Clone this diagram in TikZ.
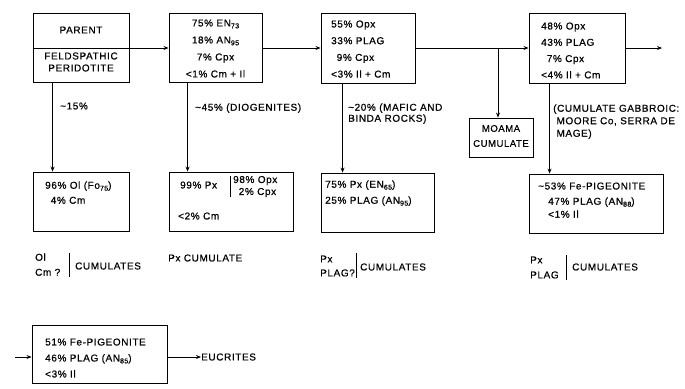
\documentclass[tikz,border=0pt]{standalone}
\usepackage{fontspec}
\setmainfont{Liberation Sans}[LetterSpace=6, FakeBold=0.6]
\usetikzlibrary{arrows.meta}

\tikzset{
  box/.style={draw, line width=0.9pt, inner sep=0pt},
  txt/.style={inner sep=0pt, anchor=north west, align=left, font=\fontsize{10}{16}\selectfont},
  flow/.style={line width=0.8pt, -{Stealth[length=5pt,width=4pt]}},
  bar/.style={line width=0.7pt}
}
\newcommand{\lowidx}[1]{\raisebox{-0.35ex}{\fontsize{7}{7}\selectfont #1}}

\begin{document}
\begin{tikzpicture}[x=1pt,y=-1pt]
\useasboundingbox (0,0) rectangle (685,388);

% top row: liquids
\node[box, minimum width=96pt, minimum height=69pt] (parent) at (81,48) {};
\node[box, minimum width=93pt, minimum height=69pt] (liq1) at (215.5,48) {};
\node[box, minimum width=94pt, minimum height=70pt] (liq2) at (368,48) {};
\node[box, minimum width=96pt, minimum height=70pt] (liq3) at (577,48) {};
\node[box, minimum width=64pt, minimum height=39pt] (moama) at (501,137.5) {};

\node[txt, anchor=center, align=center] (ptop) at (81,30) {PARENT};
\node[txt, anchor=center, align=center, font=\fontsize{10}{12}\selectfont] (pbot) at (81,62) {FELDSPATHIC\\PERIDOTITE};
\node[txt, anchor=north, align=center, font=\fontsize{10}{17}\selectfont] (liq1t) at (215.5,19.3)
  {75\% EN\lowidx{73}\\18\% AN\lowidx{95}\\7\% Cpx\\<1\% Cm + Il};
\node[txt, font=\fontsize{10}{16.7}\selectfont] (liq2t) at (331,20.3)
  {55\% Opx\\33\% PLAG\\\phantom{5}9\% Cpx\\<3\% Il + Cm};
\node[txt, font=\fontsize{10}{16.3}\selectfont] (liq3t) at (541,22.3)
  {48\% Opx\\43\% PLAG\\\phantom{4}7\% Cpx\\<4\% Il + Cm};
\node[txt, anchor=center, align=center, font=\fontsize{9.5}{15}\selectfont] (moamat) at (501,136) {MOAMA\\CUMULATE};

% middle row: cumulates
\node[box, minimum width=96pt, minimum height=59pt] (cum1) at (81,201.5) {};
\node[box, minimum width=124pt, minimum height=59pt] (cum2) at (231,201.5) {};
\node[box, minimum width=113pt, minimum height=59pt] (cum3) at (377.5,202.5) {};
\node[box, minimum width=134pt, minimum height=59pt] (cum4) at (596,203.5) {};

\node[txt, font=\fontsize{10}{15}\selectfont] (cum1t) at (45,181.3) {96\% Ol (Fo\lowidx{75})\\\phantom{9}4\% Cm};
\node[txt] (cum2l) at (180,181.3) {99\% Px};
\node[txt, font=\fontsize{10}{12}\selectfont] (cum2r) at (233,175.8) {98\% Opx\\\phantom{9}2\% Cpx};
\node[txt] (cum2b) at (178,212.3) {<2\% Cm};
\draw[bar] ([xshift=-3pt]cum2r.north west) -- ([xshift=-3pt]cum2r.south west);
\node[txt] (cum3t) at (325,180.3) {75\% Px (EN\lowidx{65})\\25\% PLAG (AN\lowidx{95})};
\node[txt] (cum4a) at (538,182.3) {\textasciitilde 53\% Fe-PIGEONITE};
\node[txt, font=\fontsize{10}{13}\selectfont] (cum4b) at (548,197.3) {47\% PLAG (AN\lowidx{88})\\<1\% Il};

% fractionation labels
\node[txt] (frac1) at (60,102.3) {\textasciitilde 15\%};
\node[txt] (frac2) at (195,103.3) {\textasciitilde 45\% (DIOGENITES)};
\node[txt, font=\fontsize{10}{11}\selectfont] (frac3) at (348,103.3) {\textasciitilde 20\% (MAFIC AND\\BINDA ROCKS)};
\node[txt, font=\fontsize{10}{12.5}\selectfont] (frac4) at (553,104.3)
  {(CUMULATE GABBROIC:\\\phantom{(}MOORE Co, SERRA DE\\\phantom{(}MAGE)};

% bottom labels
\node[txt, font=\fontsize{10}{15}\selectfont] (ol) at (35,253.3) {Ol\\Cm ?};
\node[txt, anchor=west] (cu1) at (75,266) {CUMULATES};
\draw[bar] ([xshift=-6pt,yshift=13pt]cu1.west) -- ([xshift=-6pt,yshift=-11pt]cu1.west);
\node[txt, anchor=west] (cu2) at (168,258) {Px CUMULATE};
\node[txt, font=\fontsize{10}{14}\selectfont] (pl3) at (320,255.3) {Px\\PLAG?};
\node[txt, anchor=west] (cu3) at (360,267) {CUMULATES};
\draw[bar] ([xshift=-4pt,yshift=14pt]cu3.west) -- ([xshift=-4pt,yshift=-11pt]cu3.west);
\node[txt, font=\fontsize{10}{15}\selectfont] (pl4) at (530,256.3) {Px\\PLAG};
\node[txt, anchor=west] (cu4) at (572,267) {CUMULATES};
\draw[bar] ([xshift=-6pt,yshift=12pt]cu4.west) -- ([xshift=-6pt,yshift=-13pt]cu4.west);

% eucrite liquid
\node[box, minimum width=135pt, minimum height=58pt] (euc) at (99.5,354) {};
\node[txt] (euct) at (45,338.3) {51\% Fe-PIGEONITE\\46\% PLAG (AN\lowidx{85})\\<3\% Il};
\node[txt, anchor=west] (eucr) at (201,357) {EUCRITES};
\coordinate (inl) at (15,357);
\draw[flow] (inl) -- (inl -| euc.west);
\draw[flow] (euc.east |- inl) -- (eucr.west);

% connectors
\draw[line width=0.9pt] (parent.west) -- (parent.east);
\draw[flow] (parent.east) -- (liq1.west);
\draw[flow] (liq1.east) -- (liq2.west);
\draw[flow] (liq2.east) -- (liq3.west);
\coordinate (br) at (498,48);
\draw[flow] (br) -- (br |- moama.north);
\coordinate (out) at (662,48);
\draw[flow] (liq3.east) -- (out);
\draw[flow] ([xshift=20pt]parent.south west) -- ([xshift=20pt]cum1.north west);
\draw[flow] ([xshift=19pt]liq1.south west) -- ([xshift=19pt]cum2.north west);
\draw[flow] ([xshift=22pt]liq2.south west) -- ([xshift=22pt]cum3.north west);
\draw[flow] ([xshift=21pt]liq3.south west) -- ([xshift=21pt]cum4.north west);
\end{tikzpicture}
\end{document}
